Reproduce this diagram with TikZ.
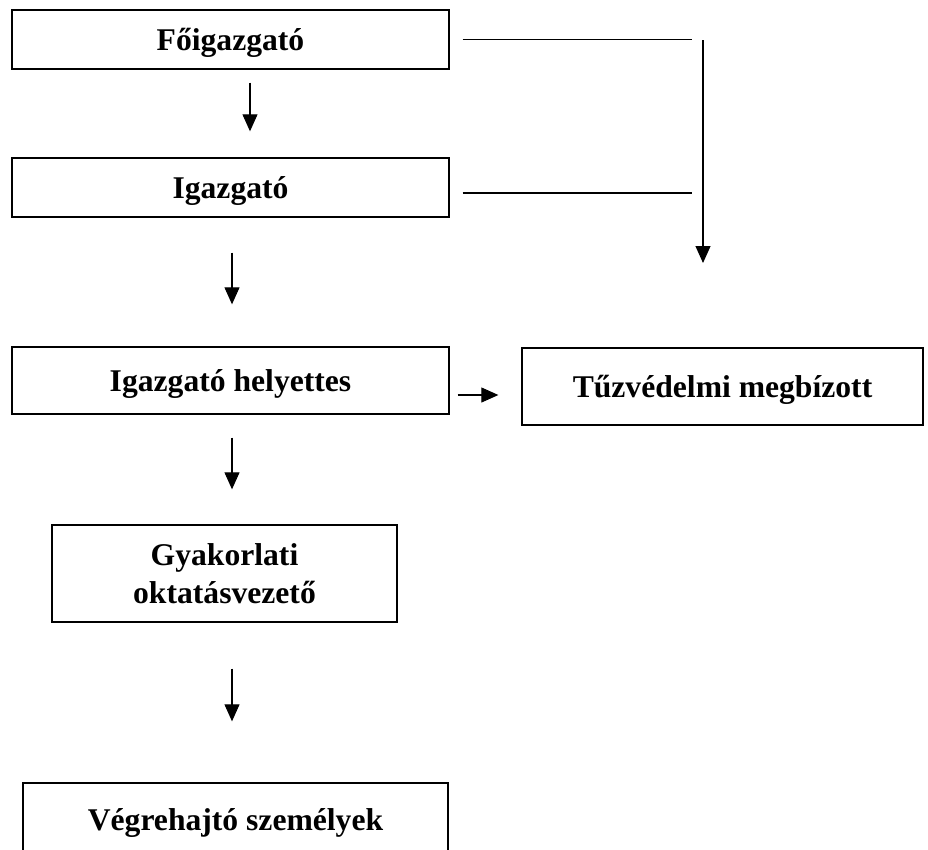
\documentclass[tikz,border=0pt]{standalone}
\usepackage{fontspec}
\setmainfont{Liberation Serif}
\usetikzlibrary{arrows.meta}
\usetikzlibrary{calc}

\begin{document}
\begin{tikzpicture}[x=0.02cm,y=-0.02cm,>/.tip={Triangle[length=0.34cm,width=0.3cm]},box/.style={draw,line width=0.8pt,align=center,inner sep=0pt,text depth=0pt,font=\bfseries\fontsize{18}{21.5}\selectfont},link/.style={line width=0.6pt}]
	\useasboundingbox (0,0) rectangle (928,849);
	\node (fo) [box,minimum width=8.74cm,minimum height=1.18cm] at (230.5,39.5) {Főigazgató};
	\node (igaz) [box,minimum width=8.74cm,minimum height=1.18cm] at (230.5,187.5) {Igazgató};
	\node (hely) [box,minimum width=8.74cm,minimum height=1.34cm] at (230.5,380.5) {Igazgató helyettes};
	\node (tuz) [box,minimum width=8.02cm,minimum height=1.54cm] at (722.5,386.5) {Tűzvédelmi megbízott};
	\node (gyak) [box,minimum width=6.9cm,minimum height=1.94cm] at (224.5,573.5) {Gyakorlati\\oktatásvezető};
	\node (vegre) [box,minimum width=8.5cm,minimum height=1.44cm] at (235.5,819) {Végrehajtó személyek};
	\coordinate (kanyar) at (703,40);
	\coordinate (lent) at (703,263);
	\draw[link,->,shorten <=0.26cm,shorten >=0.52cm] ([xshift=0.39cm]fo.south) -- ([xshift=0.39cm]igaz.north);
	\draw[link,->,shorten <=0.7cm,shorten >=0.84cm] ([xshift=0.03cm]igaz.south) -- ([xshift=0.03cm]hely.north);
	\draw[link,->,shorten <=0.46cm,shorten >=0.7cm] ([xshift=0.03cm]hely.south) -- ([xshift=0.03cm]hely.south |- gyak.north);
	\draw[link,->,shorten <=0.92cm,shorten >=1.22cm] ([xshift=0.15cm]gyak.south) -- ([xshift=0.15cm]gyak.south |- vegre.north);
	\draw[link,->,shorten <=0.16cm,shorten >=0.46cm] ([yshift=-0.29cm]hely.east) -- ([yshift=-0.29cm]hely.east -| tuz.west);
	\draw[link,shorten <=0.26cm,shorten >=0.22cm] (fo.east) -- (fo.east -| kanyar);
	\draw[link,shorten <=0.26cm,shorten >=0.22cm] ([yshift=-0.11cm]igaz.east) -- ([yshift=-0.11cm]igaz.east -| kanyar);
	\draw[link,->] (kanyar) -- (lent);
\end{tikzpicture}
\end{document}
